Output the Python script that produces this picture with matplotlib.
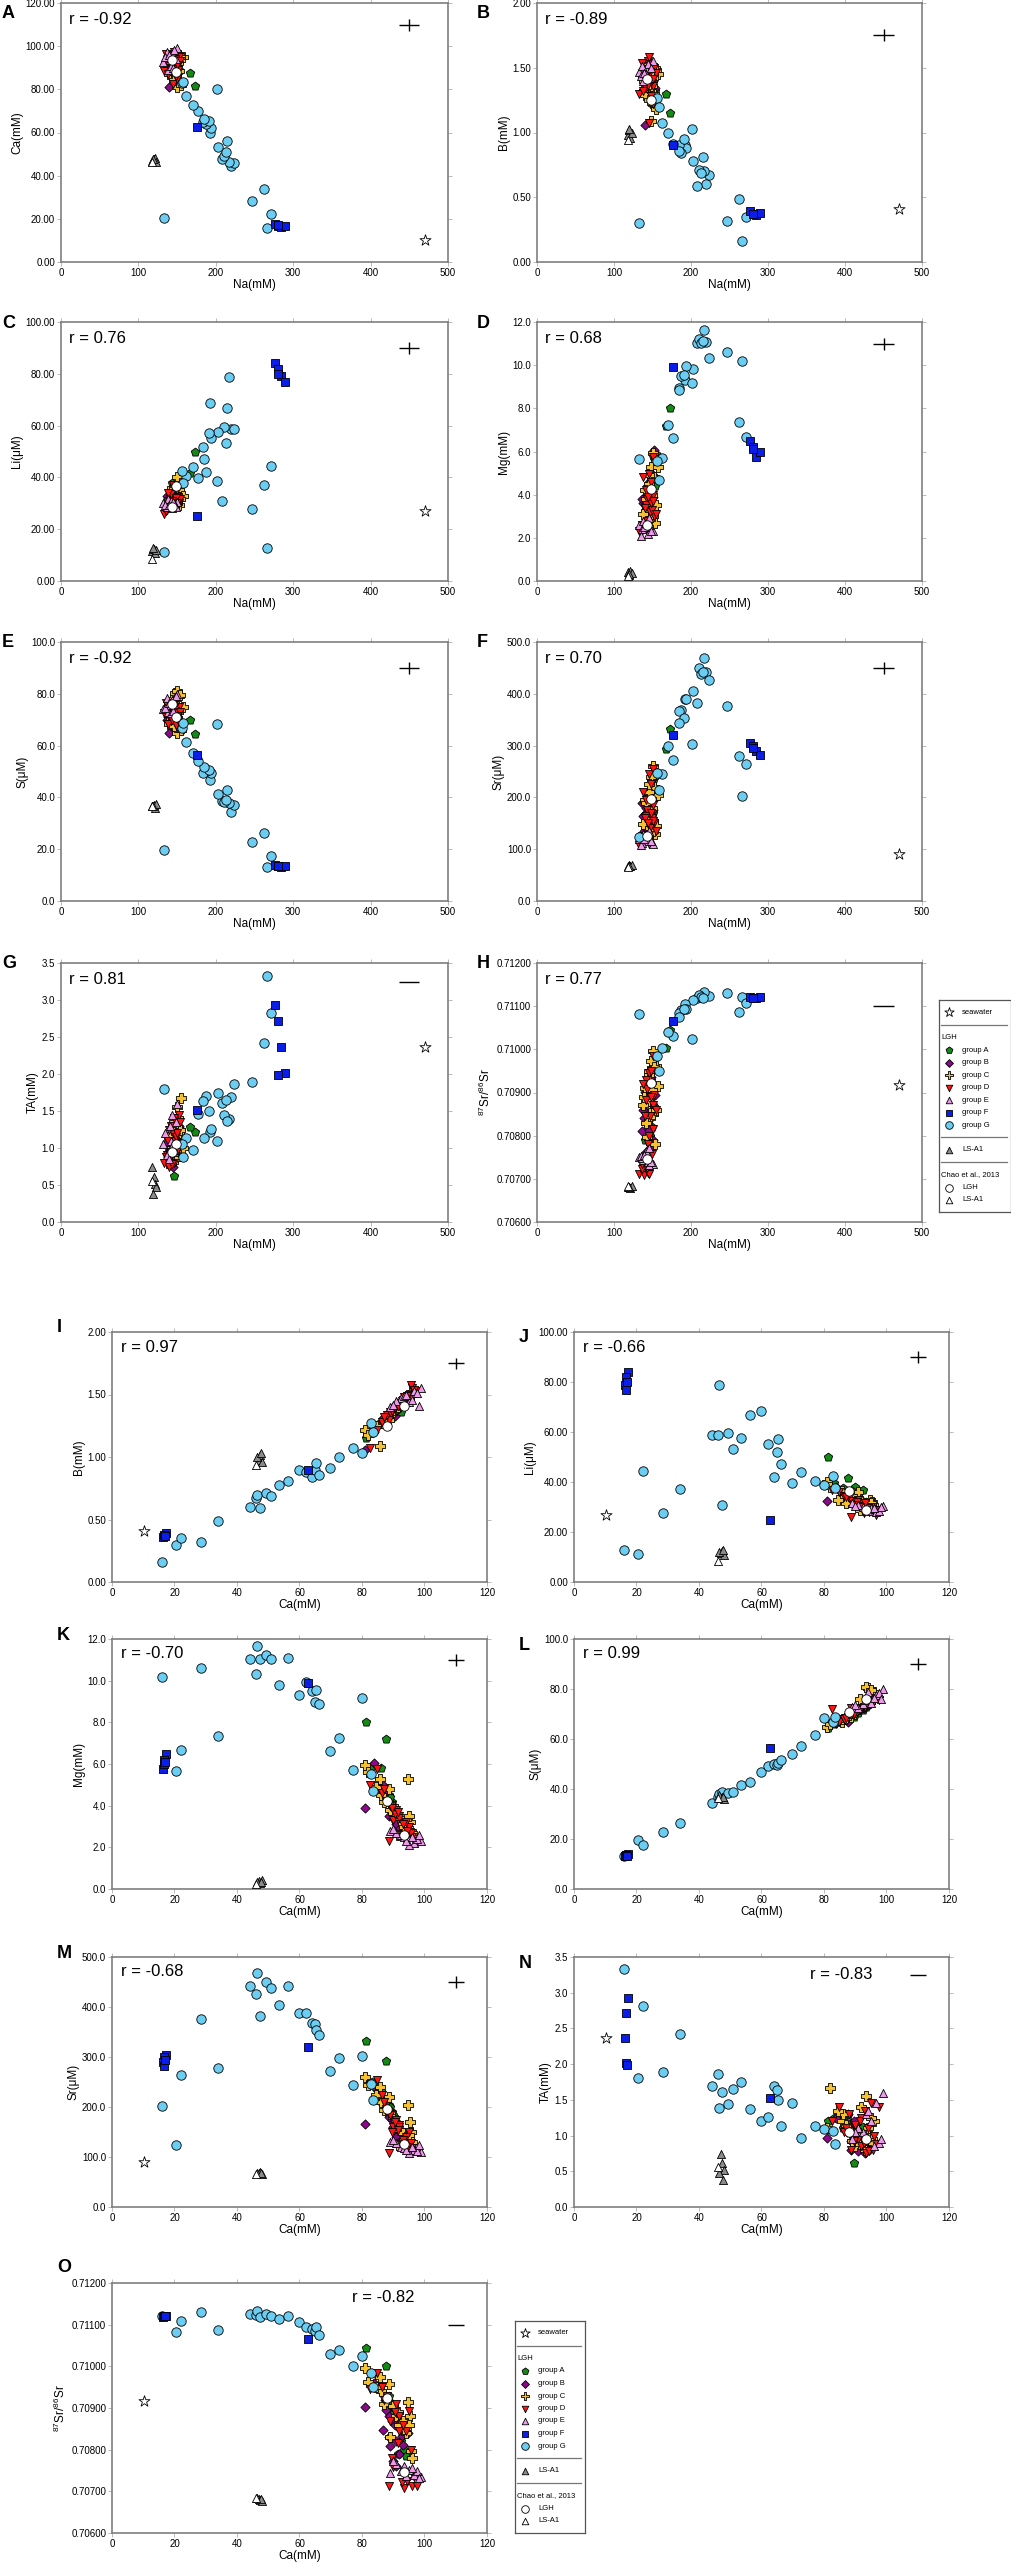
import numpy as np
import matplotlib
matplotlib.use("Agg")
import matplotlib.pyplot as plt

plt.rcParams['font.family'] = ['Liberation Sans', 'DejaVu Sans']

# ---------------------------------------------------------------- data
# columns of every sample row
COLS = ['na', 'ca', 'b', 'li', 'mg', 's', 'sr', 'ta', 'sr87']

# LGH group A (green pentagons)
group_A = [
    (173, 81.4, 1.15, 49.9, 8.00, 64.5, 333, 1.21, 0.71045),
    (167, 87.6, 1.30, 41.8, 7.20, 69.8, 293, 1.29, 0.71002),
    (155, 83.3, 1.22, 39.5, 5.90, 66.0, 250, 1.25, 0.70984),
    (150, 86.0, 1.28, 37.5, 5.80, 67.5, 232, 1.10, 0.70955),
    (148, 88.5, 1.35, 36.0, 4.50, 70.0, 205, 1.18, 0.70930),
    (146, 89.5, 1.33, 35.0, 4.20, 69.0, 190, 0.62, 0.70905),
    (144, 90.0, 1.38, 38.0, 4.00, 71.0, 185, 0.95, 0.70890),
    (151, 91.0, 1.40, 34.5, 3.60, 70.5, 170, 1.05, 0.70870),
    (142, 92.0, 1.42, 33.0, 3.30, 72.0, 160, 0.90, 0.70855),
    (149, 92.5, 1.36, 37.0, 3.10, 71.5, 150, 1.12, 0.70820),
    (147, 93.5, 1.44, 32.0, 2.80, 73.0, 140, 0.85, 0.70800),
    (140, 91.5, 1.39, 31.5, 3.50, 72.5, 165, 0.98, 0.70790),
    (153, 89.0, 1.32, 36.5, 4.40, 69.5, 200, 1.02, 0.70915),
    (145, 94.0, 1.46, 30.5, 2.90, 74.0, 135, 0.80, 0.70785),
]
# LGH group B (purple diamonds)
group_B = [
    (140, 81.0, 1.06, 32.5, 3.87, 65.0, 167, 0.96, 0.70902),
    (152, 84.0, 1.20, 38.0, 6.05, 66.5, 240, 1.25, 0.70960),
    (148, 86.6, 1.28, 35.5, 5.00, 68.0, 215, 1.15, 0.70935),
    (145, 87.5, 1.30, 34.0, 4.60, 69.0, 200, 1.05, 0.70920),
    (143, 88.5, 1.34, 33.5, 4.20, 70.0, 185, 0.92, 0.70880),
    (150, 89.5, 1.36, 35.0, 3.90, 70.5, 175, 1.20, 0.70870),
    (138, 90.4, 1.33, 32.0, 3.60, 71.0, 165, 0.88, 0.70860),
    (146, 86.6, 1.31, 33.0, 4.40, 68.5, 205, 1.10, 0.70848),
    (141, 88.5, 1.35, 31.5, 3.50, 69.5, 180, 0.80, 0.70830),
    (147, 91.0, 1.40, 30.5, 3.20, 72.0, 150, 1.00, 0.70820),
    (144, 92.7, 1.42, 31.0, 3.00, 72.5, 145, 0.85, 0.70834),
    (139, 94.6, 1.45, 30.0, 2.70, 74.0, 135, 0.95, 0.70840),
    (149, 90.0, 1.38, 32.5, 3.40, 71.5, 160, 1.15, 0.70774),
    (142, 90.9, 1.37, 31.0, 3.10, 72.0, 140, 0.78, 0.70762),
    (151, 92.0, 1.40, 29.5, 2.90, 73.0, 130, 0.90, 0.70790),
    (137, 89.0, 1.32, 33.0, 3.80, 70.0, 190, 1.08, 0.70810),
    (145, 93.0, 1.43, 30.0, 2.80, 73.5, 128, 0.75, 0.70812),
    (153, 87.8, 1.34, 34.0, 4.80, 67.0, 210, 1.30, 0.70895),
]
# LGH group C (yellow crosses)
group_C = [
    (150, 81.0, 1.22, 40.0, 5.94, 65.0, 260, 1.10, 0.70996),
    (155, 82.0, 1.18, 38.0, 5.60, 66.0, 245, 1.67, 0.70962),
    (148, 85.8, 1.09, 36.5, 5.30, 67.0, 240, 1.20, 0.70974),
    (152, 88.7, 1.30, 35.0, 4.80, 69.0, 220, 1.05, 0.70958),
    (157, 94.8, 1.45, 33.0, 5.28, 75.0, 205, 1.00, 0.70914),
    (146, 95.4, 1.50, 32.0, 3.20, 77.0, 170, 0.95, 0.70882),
    (143, 95.6, 1.52, 31.0, 2.80, 78.0, 150, 0.90, 0.70798),
    (145, 86.0, 1.27, 34.0, 4.50, 68.0, 210, 1.30, 0.70940),
    (140, 87.0, 1.29, 31.5, 4.20, 68.5, 195, 1.15, 0.70910),
    (149, 90.0, 1.36, 33.5, 4.00, 71.0, 180, 0.85, 0.70905),
    (144, 91.0, 1.39, 36.0, 3.60, 72.0, 165, 1.00, 0.70880),
    (151, 92.0, 1.42, 32.5, 3.40, 73.0, 155, 1.40, 0.70860),
    (138, 93.0, 1.44, 30.5, 3.10, 74.5, 148, 0.80, 0.70870),
    (147, 94.0, 1.47, 31.0, 2.90, 80.5, 140, 1.10, 0.70840),
    (142, 89.0, 1.35, 34.5, 3.80, 70.5, 190, 0.92, 0.70830),
    (153, 96.0, 1.50, 29.5, 2.70, 79.0, 130, 1.20, 0.70780),
    (146, 84.5, 1.25, 33.0, 4.90, 67.5, 225, 1.35, 0.70950),
    (150, 93.5, 1.46, 30.0, 3.00, 81.0, 135, 1.55, 0.70850),
    (139, 91.5, 1.40, 29.0, 2.60, 76.0, 125, 0.88, 0.70890),
    (154, 95.0, 1.48, 31.5, 3.50, 79.5, 145, 1.25, 0.70860),
]
# LGH group D (red down triangles)
group_D = [
    (133, 88.5, 1.30, 26.0, 2.30, 72.5, 108, 0.80, 0.70712),
    (145, 82.5, 1.07, 37.0, 4.97, 72.0, 245, 1.20, 0.70946),
    (150, 84.8, 1.22, 36.0, 5.74, 67.0, 255, 1.40, 0.70985),
    (148, 86.3, 1.28, 34.5, 4.60, 68.0, 225, 1.05, 0.70950),
    (143, 91.0, 1.40, 33.0, 3.80, 71.5, 175, 0.95, 0.70909),
    (152, 95.0, 1.50, 30.0, 3.00, 75.0, 150, 1.45, 0.70894),
    (141, 91.7, 1.41, 31.5, 3.50, 72.0, 165, 0.85, 0.70882),
    (147, 94.0, 1.47, 29.5, 3.20, 73.5, 140, 1.10, 0.70846),
    (139, 93.5, 1.48, 28.5, 2.40, 74.0, 115, 0.75, 0.70709),
    (144, 96.1, 1.55, 28.0, 2.50, 76.0, 118, 1.00, 0.70714),
    (146, 97.5, 1.53, 29.0, 2.20, 75.5, 110, 1.40, 0.70712),
    (137, 92.7, 1.45, 27.5, 2.60, 73.0, 125, 0.90, 0.70722),
    (149, 90.0, 1.38, 31.0, 3.30, 70.5, 160, 1.15, 0.70758),
    (142, 88.0, 1.34, 33.5, 4.20, 69.5, 195, 1.30, 0.70930),
    (151, 89.0, 1.36, 32.5, 4.00, 70.0, 185, 0.98, 0.70870),
    (140, 92.0, 1.43, 30.5, 3.40, 72.0, 160, 1.25, 0.70845),
    (146, 95.7, 1.58, 29.0, 2.70, 74.5, 128, 0.80, 0.70800),
    (138, 87.0, 1.32, 34.0, 4.80, 68.5, 210, 1.10, 0.70920),
    (154, 93.0, 1.46, 31.5, 3.10, 73.0, 135, 1.35, 0.70860),
    (143, 94.5, 1.49, 28.0, 2.80, 74.5, 120, 0.78, 0.70725),
    (148, 90.5, 1.39, 32.0, 3.60, 71.0, 170, 1.05, 0.70890),
    (136, 96.5, 1.54, 27.0, 2.30, 76.5, 112, 0.88, 0.70735),
    (150, 91.5, 1.41, 30.0, 3.70, 71.5, 155, 1.20, 0.70815),
    (144, 89.5, 1.37, 31.0, 3.90, 70.0, 150, 0.92, 0.70780),
]
# LGH group E (pink triangles)
group_E = [
    (132, 92.5, 1.47, 30.0, 2.60, 74.0, 120, 1.05, 0.70750),
    (150, 99.0, 1.55, 30.5, 2.30, 80.0, 110, 1.60, 0.70735),
    (138, 89.0, 1.40, 31.5, 2.80, 73.0, 130, 0.95, 0.70744),
    (141, 93.5, 1.49, 29.0, 2.50, 75.5, 118, 1.30, 0.70760),
    (144, 96.5, 1.53, 28.0, 2.20, 77.5, 115, 1.45, 0.70740),
    (137, 97.5, 1.51, 28.5, 2.40, 78.5, 112, 0.90, 0.70748),
    (146, 98.3, 1.41, 30.0, 2.60, 76.0, 125, 0.95, 0.70732),
    (135, 95.0, 1.44, 29.5, 2.10, 74.5, 108, 1.20, 0.70752),
    (142, 91.0, 1.45, 31.0, 2.70, 72.5, 128, 1.10, 0.70765),
    (148, 94.0, 1.50, 28.5, 2.30, 79.0, 115, 1.35, 0.70738),
    (139, 96.0, 1.46, 29.5, 2.50, 76.5, 120, 0.85, 0.70755),
    (145, 90.0, 1.42, 30.5, 2.90, 73.5, 135, 1.05, 0.70772),
]
# LGH group F (blue squares)
group_F = [
    (276, 17.4, 0.39, 84.0, 6.50, 13.9, 305, 2.93, 0.71121),
    (280, 16.8, 0.37, 82.0, 6.20, 13.5, 300, 2.71, 0.71120),
    (284, 16.4, 0.36, 79.0, 5.75, 13.3, 290, 2.36, 0.71119),
    (289, 16.6, 0.38, 77.0, 6.00, 13.6, 282, 2.02, 0.71122),
    (281, 17.0, 0.37, 80.0, 6.10, 13.4, 295, 1.99, 0.71120),
    (176, 62.6, 0.90, 25.0, 9.90, 56.4, 320, 1.52, 0.71066),
]
# LGH group G (light-blue circles)
group_G = [
    (266, 15.9, 0.16, 12.7, 10.18, 13.2, 202, 3.33, 0.71122),
    (133, 20.4, 0.30, 11.2, 5.66, 19.5, 124, 1.80, 0.71083),
    (271, 22.1, 0.35, 44.3, 6.66, 17.5, 265, 2.82, 0.71108),
    (247, 28.4, 0.32, 27.7, 10.60, 22.9, 376, 1.89, 0.71131),
    (262, 34.0, 0.49, 37.2, 7.36, 26.4, 279, 2.42, 0.71087),
    (220, 44.3, 0.60, 58.8, 11.06, 34.4, 443, 1.69, 0.71126),
    (224, 46.0, 0.67, 58.8, 10.34, 36.9, 426, 1.86, 0.71124),
    (217, 46.4, 0.70, 78.9, 11.65, 38.0, 469, 1.39, 0.71132),
    (208, 47.5, 0.59, 31.0, 11.04, 38.7, 382, 1.61, 0.71118),
    (210, 49.3, 0.71, 59.5, 11.23, 38.4, 450, 1.44, 0.71126),
    (213, 51.0, 0.69, 53.2, 11.04, 38.9, 439, 1.65, 0.71122),
    (203, 53.5, 0.78, 57.5, 9.80, 41.5, 405, 1.75, 0.71114),
    (215, 56.2, 0.81, 66.7, 11.10, 42.9, 443, 1.37, 0.71120),
    (192, 59.8, 0.90, 68.6, 9.33, 46.9, 389, 1.21, 0.71106),
    (194, 62.2, 0.88, 55.2, 9.94, 49.3, 389, 1.26, 0.71094),
    (187, 63.9, 0.84, 42.1, 9.52, 50.1, 368, 1.70, 0.71090),
    (184, 65.0, 0.90, 51.9, 8.96, 49.5, 366, 1.64, 0.71085),
    (191, 65.3, 0.95, 57.1, 9.54, 50.5, 354, 1.50, 0.71094),
    (185, 66.1, 0.86, 47.1, 8.86, 51.6, 344, 1.13, 0.71076),
    (177, 69.9, 0.91, 39.6, 6.64, 54.1, 273, 1.46, 0.71030),
    (170, 72.8, 1.00, 43.9, 7.25, 57.3, 299, 0.97, 0.71039),
    (162, 77.0, 1.07, 40.5, 5.71, 61.5, 245, 1.13, 0.71002),
    (201, 80.0, 1.03, 38.8, 9.17, 68.3, 303, 1.09, 0.71025),
    (156, 82.8, 1.27, 42.4, 5.54, 66.8, 247, 1.06, 0.70985),
    (158, 83.6, 1.20, 37.7, 4.69, 68.7, 215, 0.88, 0.70950),
]
# LS-A1 (grey triangles)
ls_a1 = [
    (118, 47.0, 0.98, 11.5, 0.40, 36.5, 68, 0.74, 0.70682),
    (120, 47.5, 1.02, 12.5, 0.30, 37.0, 70, 0.61, 0.70680),
    (121, 48.0, 0.96, 11.0, 0.45, 36.0, 67, 0.52, 0.70678),
    (123, 46.5, 1.00, 12.0, 0.35, 37.5, 69, 0.47, 0.70684),
    (119, 47.8, 1.03, 12.8, 0.32, 36.8, 68, 0.38, 0.70681),
]
# Chao et al., 2013
chao_lgh = [
    (148, 88.0, 1.25, 36.5, 4.24, 70.9, 196, 1.05, 0.70923),
    (143, 93.5, 1.41, 28.7, 2.60, 75.9, 126, 0.95, 0.70746),
]
chao_ls_a1 = [
    (118, 46.2, 0.94, 8.5, 0.25, 36.5, 66, 0.56, 0.70683),
]
# seawater (Mg and S beyond plotted ranges)
seawater = [
    (470, 10.3, 0.41, 27.0, np.nan, np.nan, 90, 2.37, 0.70917),
]

# panel definitions: letter, y variable, y label, y max, y step, tick format, r text
y_vars_upper = ['ca', 'b', 'li', 'mg', 's', 'sr', 'ta', 'sr87']
y_vars_lower = ['b', 'li', 'mg', 's', 'sr', 'ta', 'sr87']
letters_upper = ['A', 'B', 'C', 'D', 'E', 'F', 'G', 'H']
letters_lower = ['I', 'J', 'K', 'L', 'M', 'N', 'O']
r_upper = ['r = -0.92', 'r = -0.89', 'r = 0.76', 'r = 0.68',
           'r = -0.92', 'r = 0.70', 'r = 0.81', 'r = 0.77']
r_lower = ['r = 0.97', 'r = -0.66', 'r = -0.70', 'r = 0.99',
           'r = -0.68', 'r = -0.83', 'r = -0.82']
YLABEL = {'ca': 'Ca(mM)', 'b': 'B(mM)', 'li': 'Li(μM)', 'mg': 'Mg(mM)',
          's': 'S(μM)', 'sr': 'Sr(μM)', 'ta': 'TA(mM)',
          'sr87': r'$\mathregular{^{87}Sr/^{86}Sr}$'}
YRANGE = {'ca': (0, 120, 20), 'b': (0, 2.0, 0.5), 'li': (0, 100, 20),
          'mg': (0, 12, 2), 's': (0, 100, 20), 'sr': (0, 500, 100),
          'ta': (0, 3.5, 0.5), 'sr87': (0.706, 0.712, 0.001)}
YFMT_UPPER = {'ca': '%.2f', 'b': '%.2f', 'li': '%.2f', 'mg': '%.1f',
              's': '%.1f', 'sr': '%.1f', 'ta': '%.1f', 'sr87': '%.5f'}
YFMT_LOWER = {'b': '%.2f', 'li': '%.2f', 'mg': '%.1f', 's': '%.1f',
              'sr': '%.1f', 'ta': '%.1f', 'sr87': '%.5f'}
# analytical-error symbols: position and half-errors (y) per variable
ERR_POS_Y = {'ca': 110, 'b': 1.75, 'li': 90, 'mg': 11, 's': 90, 'sr': 450,
             'ta': 3.25, 'sr87': 0.7110}
ERR_Y = {'ca': 2.8, 'b': 0.046, 'li': 2.3, 'mg': 0.28, 's': 2.3, 'sr': 11.5,
         'ta': 0.0, 'sr87': 0.0}
ERR_NA = (450, 13.0)
ERR_CA = (110, 2.6)

# ---------------------------------------------------------------- styles
STYLE = [
    ('grpA', group_A, dict(marker='p', c='#138a13', s=40)),
    ('grpB', group_B, dict(marker='D', c='#8a0a8a', s=22)),
    ('grpC', group_C, dict(marker='P', c='#f6c12e', s=46)),
    ('grpD', group_D, dict(marker='v', c='#ff1414', s=34)),
    ('grpE', group_E, dict(marker='^', c='#ee9aea', s=34)),
    ('grpG', group_G, dict(marker='o', c='#6ccdf2', s=46)),
    ('grpF', group_F, dict(marker='s', c='#0a1ee8', s=28)),
    ('lsa1', ls_a1, dict(marker='^', c='#8a8a8a', s=34)),
    ('chaoL', chao_lgh, dict(marker='o', c='white', s=46)),
    ('chaoA', chao_ls_a1, dict(marker='^', c='white', s=34)),
    ('sw', seawater, dict(marker='*', c='white', s=70)),
]

W, H = 1012, 2562
fig = plt.figure(figsize=(W / 100, H / 100), dpi=100)


def add_ax(x0, y0, x1, y1):
    return fig.add_axes([x0 / W, 1 - y1 / H, (x1 - x0) / W, (y1 - y0) / H])


def col(rows, name):
    i = COLS.index(name)
    return np.array([r[i] for r in rows], dtype=float)


def style_axes(ax, xr, yr, xfmt, yfmt):
    ax.set_xlim(xr[0], xr[1])
    ax.set_ylim(yr[0], yr[1])
    ax.set_xticks(np.arange(xr[0], xr[1] + xr[2] / 2, xr[2]))
    ax.set_yticks(np.arange(yr[0], yr[1] + yr[2] / 2, yr[2]))
    ax.set_xticklabels([xfmt % v for v in ax.get_xticks()])
    ax.set_yticklabels([yfmt % v for v in ax.get_yticks()])
    ax.tick_params(direction='out', length=3, width=0.6, color='#b0b0b0',
                   top=True, right=True, labelsize=7, pad=1.2,
                   labelcolor='black')
    for sp in ax.spines.values():
        sp.set_color('#7f7f7f')
        sp.set_linewidth(1.2)


def draw_points(ax, xv, yv):
    for name, rows, st in STYLE:
        ax.scatter(col(rows, xv), col(rows, yv), marker=st['marker'],
                   c=st['c'], s=st['s'], edgecolors='black',
                   linewidths=0.6, zorder=3)


def panel(box, xv, yv, xr, xfmt, yfmt, xlabel, letter, letter_xy, rtext,
          rpos, errx):
    ax = add_ax(*box)
    yr = YRANGE[yv]
    style_axes(ax, xr, yr, xfmt, yfmt)
    draw_points(ax, xv, yv)
    ax.errorbar([errx[0]], [ERR_POS_Y[yv]], xerr=[errx[1]],
                yerr=[ERR_Y[yv]] if ERR_Y[yv] > 0 else None,
                fmt='none', ecolor='black', elinewidth=1.0, capsize=0,
                zorder=4)
    ax.set_xlabel(xlabel, fontsize=8.5, labelpad=1)
    ax.set_ylabel(YLABEL[yv], fontsize=8.5, labelpad=2)
    ax.text(rpos[0], rpos[1], rtext, transform=ax.transAxes, fontsize=12,
            ha='left', va='center')
    fig.text(letter_xy[0] / W, 1 - letter_xy[1] / H, letter, fontsize=13,
             fontweight='bold', ha='left', va='center')
    return ax


# upper block: y vs Na
up_cols = [(61, 448), (537, 922)]
up_tops = [3, 322, 642, 963]
up_h = 259
for k, yv in enumerate(y_vars_upper):
    r, c = divmod(k, 2)
    x0, x1 = up_cols[c]
    y0 = up_tops[r]
    box = (x0, y0, x1, y0 + up_h)
    lx = 2 if c == 0 else 477
    ly = max(y0 + 1, 14)
    panel(box, 'na', yv, (0, 500, 100), '%d', YFMT_UPPER[yv], 'Na(mM)',
          letters_upper[k], (lx, ly), r_upper[k], (0.02, 0.935), ERR_NA)

# lower block: y vs Ca
lo_cols = [(112, 487), (574, 949)]
lo_tops = [1332, 1639, 1957, 2283]
lo_h = 250
r_pos_lower = [(0.025, 0.94), (0.025, 0.94), (0.025, 0.94), (0.025, 0.94),
               (0.025, 0.94), (0.63, 0.93), (0.64, 0.94)]
for k, yv in enumerate(y_vars_lower):
    r, c = divmod(k, 2)
    x0, x1 = lo_cols[c]
    y0 = lo_tops[r]
    box = (x0, y0, x1, y0 + lo_h)
    lx = 57 if c == 0 else 519
    ly = y0 + 6 if c == 1 else (y0 - 16 if letters_lower[k] == 'O' else y0 - 4)
    panel(box, 'ca', yv, (0, 120, 20), '%d', YFMT_LOWER[yv], 'Ca(mM)',
          letters_lower[k], (lx, ly), r_lower[k], r_pos_lower[k], ERR_CA)

# ---------------------------------------------------------------- legends
LEG_ITEMS = [('sw', 12, 'seawater'), (None, 24.5, None), ('hdr', 37, 'LGH'),
             ('grpA', 50, 'group A'), ('grpB', 62.5, 'group B'),
             ('grpC', 75, 'group C'), ('grpD', 87.5, 'group D'),
             ('grpE', 100, 'group E'), ('grpF', 112.5, 'group F'),
             ('grpG', 125, 'group G'), (None, 137, None),
             ('lsa1', 149.5, 'LS-A1'), (None, 162, None),
             ('hdr', 175, 'Chao et al., 2013'), ('chaoL', 187.5, 'LGH'),
             ('chaoA', 199.5, 'LS-A1')]
LEG_SIZE = {'grpA': 26, 'grpB': 16, 'grpC': 30, 'grpD': 22, 'grpE': 22,
            'grpF': 18, 'grpG': 30, 'lsa1': 22, 'chaoL': 30, 'chaoA': 22,
            'sw': 50}


def legend_box(x0, y0, x1, y1):
    ax = add_ax(x0, y0, x1, y1)
    w, h = x1 - x0, y1 - y0
    ax.set_xlim(0, w)
    ax.set_ylim(h, 0)
    ax.set_xticks([])
    ax.set_yticks([])
    for sp in ax.spines.values():
        sp.set_color('#555555')
        sp.set_linewidth(0.9)
    styles = {n: st for n, rows, st in STYLE}
    for key, yy, label in LEG_ITEMS:
        if key is None:
            ax.plot([2.5, w - 4], [yy, yy], color='#777777', lw=0.9)
        elif key == 'hdr':
            ax.text(2, yy, label, fontsize=5.5, ha='left', va='center')
        else:
            st = styles[key]
            ax.scatter([10], [yy], marker=st['marker'], c=st['c'],
                       s=LEG_SIZE[key], edgecolors='black', linewidths=0.6,
                       clip_on=False)
            ax.text(23, yy, label, fontsize=5.5, ha='left', va='center')


legend_box(939, 1000, 1011, 1212)
legend_box(515, 2321, 585, 2533)

fig.savefig('out.png', dpi=100)
